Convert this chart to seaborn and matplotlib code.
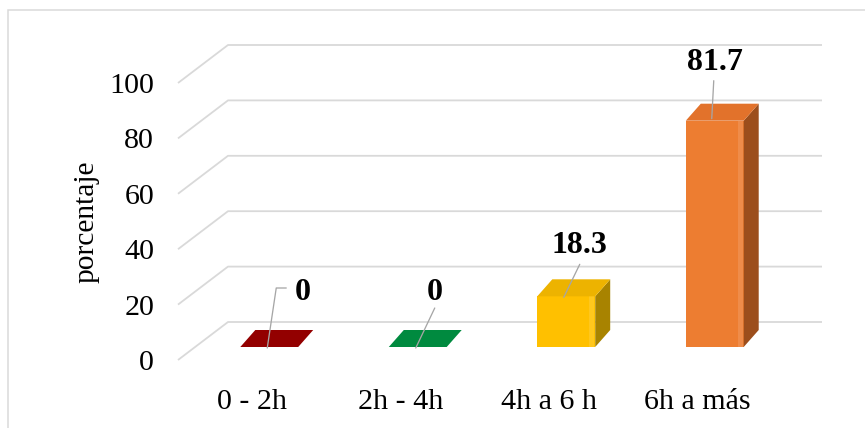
import numpy as np
import pandas as pd
import seaborn as sns
import matplotlib.pyplot as plt
from matplotlib.patches import Polygon, Rectangle
from matplotlib.lines import Line2D
from matplotlib.transforms import ScaledTranslation

# Data
categorias = ["0 - 2h", "2h - 4h", "4h a 6 h", "6h a más"]
porcentajes = [0.0, 0.0, 18.3, 81.7]
etiquetas = ["0", "0", "18.3", "81.7"]
marcas_y = [0, 20, 40, 60, 80, 100]
titulo_y = "porcentaje"

# Colours of each bar: front face, top face, side face
color_frente = ["#8B0000", "#00873E", "#FFC000", "#ED7D31"]
color_tapa = ["#930000", "#008A3F", "#EDB300", "#E2722B"]
color_lado = ["#5E0000", "#005A29", "#A88300", "#9C4E1C"]

sns.set_theme(style="white")
plt.rcParams["font.family"] = ["Liberation Serif", "DejaVu Serif"]

W, H = 865, 428
fig = plt.figure(figsize=(W / 72, H / 72), dpi=72)
ax = fig.add_axes([178 / W, 68 / H, 594 / W, 277 / H])

df = pd.DataFrame({"cat": categorias, "pct": porcentajes})
sns.barplot(data=df, x="cat", y="pct", hue="cat", palette=color_frente,
            legend=False, width=0.39, saturation=1, errorbar=None,
            linewidth=0, ax=ax, zorder=3)
ax.set_xlim(-0.5, 3.5)
ax.set_ylim(0, 100)
ax.set_autoscale_on(False)

# Oblique projection shifts (pixels; dy positive = up)
FONDO = (50, 38)      # back wall relative to the front plane
FRENTE = (17, 13)     # front face of the bars
PROF = (15, 17)       # depth of each bar

to_fig = fig.transFigure.inverted()


def px(x, y, dx=0.0, dy=0.0):
    d = ax.transData.transform((x, y)) + np.array([dx, dy]) * fig.dpi / 72
    return to_fig.transform(d)


def linea(puntos, **kw):
    xs, ys = zip(*puntos)
    ln = Line2D(xs, ys, transform=fig.transFigure, clip_on=False, **kw)
    ax.add_line(ln)
    return ln


# Floor/wall gridlines
x0, x1 = ax.get_xlim()
for v in marcas_y:
    linea([px(x0, v), px(x0, v, *FONDO), px(x1, v, *FONDO)],
          color="#D9D9D9", lw=1.8, zorder=1, solid_capstyle="butt")

# 3D bars built on the seaborn rectangles
desplazar = ax.transData + ScaledTranslation(FRENTE[0] / 72, FRENTE[1] / 72,
                                             fig.dpi_scale_trans)
bx, by = FRENTE[0] + PROF[0], FRENTE[1] + PROF[1]
for i, rect in enumerate(ax.patches[:len(categorias)]):
    rect.set_transform(desplazar)
    rect.set_clip_on(False)
    xl = rect.get_x()
    xr = xl + rect.get_width()
    h = rect.get_height()
    if h > 0:
        lado = [px(xr, 0, *FRENTE), px(xr, 0, bx, by),
                px(xr, h, bx, by), px(xr, h, *FRENTE)]
        ax.add_patch(Polygon(lado, closed=True, transform=fig.transFigure,
                             fc=color_lado[i], ec="none", zorder=3.5,
                             clip_on=False))
        brillo = [px(xr, 0, FRENTE[0] - 6, FRENTE[1]),
                  px(xr, 0, FRENTE[0] - 1, FRENTE[1]),
                  px(xr, h, FRENTE[0] - 1, FRENTE[1]),
                  px(xr, h, FRENTE[0] - 6, FRENTE[1])]
        ax.add_patch(Polygon(brillo, closed=True, transform=fig.transFigure,
                             fc="white", alpha=0.12, ec="none", zorder=3.6,
                             clip_on=False))
    tapa = [px(xl, h, *FRENTE), px(xr, h, *FRENTE),
            px(xr, h, bx, by), px(xl, h, bx, by)]
    ax.add_patch(Polygon(tapa, closed=True, transform=fig.transFigure,
                         fc=color_tapa[i], ec="none", zorder=3.7,
                         clip_on=False))

# Data labels with leader lines (offsets in pixels from the bar's top front edge)
pos_texto = [(33, 47), (16.5, 47), (13.5, 43), (0, 51)]
guias = [[(17, 59), (7, 59), (-2, -1)],
         [(17, 39), (-2, -1)],
         [(13.5, 32), (-2.5, -1)],
         [(-1, 40), (-3, 2)]]
for i, (v, txt) in enumerate(zip(porcentajes, etiquetas)):
    ax0 = FRENTE[0]
    ay0 = FRENTE[1]
    tx, ty = px(i, v, ax0 + pos_texto[i][0], ay0 + pos_texto[i][1])
    fig.text(tx, ty, txt, ha="center", va="baseline", fontsize=32,
             fontweight="bold", color="black", zorder=5)
    linea([px(i, v, ax0 + gx, ay0 + gy) for gx, gy in guias[i]],
          color="#A6A6A6", lw=1.3, zorder=4.5)

# Axes text
ax.set_yticks(marcas_y)
ax.set_yticklabels([str(m) for m in marcas_y])
ax.set_xlabel("")
ax.set_ylabel("")
ax.tick_params(axis="y", length=0, pad=24, labelsize=30, colors="black")
ax.tick_params(axis="x", length=0, pad=29, labelsize=30, colors="black")
ax.grid(False)
for s in ax.spines.values():
    s.set_visible(False)
ax.patch.set_alpha(0)

fig.text(86 / W, 1 - 222 / H, titulo_y, rotation=90, ha="center",
         va="center", fontsize=29.5, color="black")

# Chart border
fig.add_artist(Rectangle((8 / W, -0.05), 1.1, 1.05 - 10 / H,
                         transform=fig.transFigure, fill=False,
                         ec="#D9D9D9", lw=1.5))

fig.savefig("out.png", dpi=72, facecolor="white")
